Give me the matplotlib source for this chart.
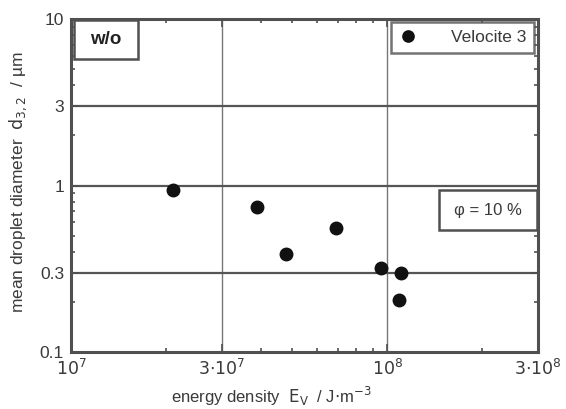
import matplotlib.pyplot as plt
from matplotlib.patches import Rectangle
from matplotlib.ticker import FixedLocator, NullFormatter

plt.rcParams['font.family'] = ['Liberation Sans', 'DejaVu Sans']

# data
energy = [2.10e7, 3.88e7, 4.79e7, 6.87e7, 9.57e7, 1.107e8, 1.093e8]
d32 = [0.936, 0.740, 0.390, 0.553, 0.319, 0.299, 0.205]
xticks = [1e7, 3e7, 1e8, 3e8]
xticklabels = ['$10^7$', '$3{\\cdot}10^7$', '$10^8$', '$3{\\cdot}10^8$']
yticks = [0.1, 0.3, 1, 3, 10]
yticklabels = ['0.1', '0.3', '1', '3', '10']

txt = '#3a3a3a'
edge = '#505050'

fig = plt.figure(figsize=(5.66, 4.09), dpi=100)
ax = fig.add_axes([0.1254, 0.1394, 0.8251, 0.8141])
ax.set_xscale('log')
ax.set_yscale('log')
ax.set_xlim(1e7, 3e8)
ax.set_ylim(0.1, 10)

# grid
for v in [3e7, 1e8]:
    ax.axvline(v, color='#777777', lw=1.0, zorder=1)
for v in [0.3, 1, 3]:
    ax.axhline(v, color='#555555', lw=1.6, zorder=1)

ax.plot(energy, d32, 'o', color='#111111', markersize=9, zorder=3,
        label='Velocite 3')

ax.xaxis.set_major_locator(FixedLocator(xticks))
ax.set_xticklabels(xticklabels)
ax.xaxis.set_minor_locator(FixedLocator([2e7, 4e7, 5e7, 6e7, 7e7, 8e7, 9e7, 2e8]))
ax.xaxis.set_minor_formatter(NullFormatter())
ax.yaxis.set_major_locator(FixedLocator(yticks))
ax.set_yticklabels(yticklabels)
ax.yaxis.set_minor_locator(FixedLocator([0.2, 0.4, 0.5, 0.6, 0.7, 0.8, 0.9,
                                         2, 4, 5, 6, 7, 8, 9]))
ax.yaxis.set_minor_formatter(NullFormatter())

ax.tick_params(which='both', direction='in', top=True, right=True,
               colors=edge, labelcolor=txt, labelsize=12.5)
ax.tick_params(which='major', length=6, width=1.2)
ax.tick_params(which='minor', length=3, width=1.2)
ax.tick_params(axis='x', pad=4)
ax.tick_params(axis='y', pad=5)
for s in ax.spines.values():
    s.set_linewidth(2.2)
    s.set_color(edge)

ax.set_xlabel('energy density  $\\mathrm{E_V}$  / J$\\cdot$m$^{-3}$',
              fontsize=12, color=txt)
ax.xaxis.set_label_coords(0.43, -0.098)
ax.set_ylabel('mean droplet diameter  $\\mathrm{d_{3,2}}$  / µm',
              fontsize=12.5, color=txt)
ax.yaxis.set_label_coords(-0.09, 0.51)

# "w/o" box
ax.add_patch(Rectangle((0.007, 0.88), 0.137, 0.117, transform=ax.transAxes,
                       fc='white', ec=edge, lw=1.8, zorder=4))
ax.text(0.075, 0.938, 'w/o', transform=ax.transAxes, fontsize=13.5,
        fontweight='bold', color='#222222', va='center', ha='center', zorder=5)

# phi box
ax.add_patch(Rectangle((0.788, 0.366), 0.209, 0.120, transform=ax.transAxes,
                       fc='white', ec=edge, lw=1.8, zorder=4))
ax.text(0.892, 0.426, 'φ = 10 %', transform=ax.transAxes, fontsize=12,
        color=txt, va='center', ha='center', zorder=5)

leg = ax.legend(loc='upper right', bbox_to_anchor=(0.992, 0.99),
                frameon=True, fancybox=False, fontsize=12.5,
                handletextpad=2.0, borderaxespad=0.0, borderpad=0.45,
                handlelength=1.0, markerscale=0.9)
leg.get_frame().set_edgecolor(edge)
leg.get_frame().set_linewidth(1.8)
for t in leg.get_texts():
    t.set_color(txt)

fig.savefig('out.png', dpi=100)
